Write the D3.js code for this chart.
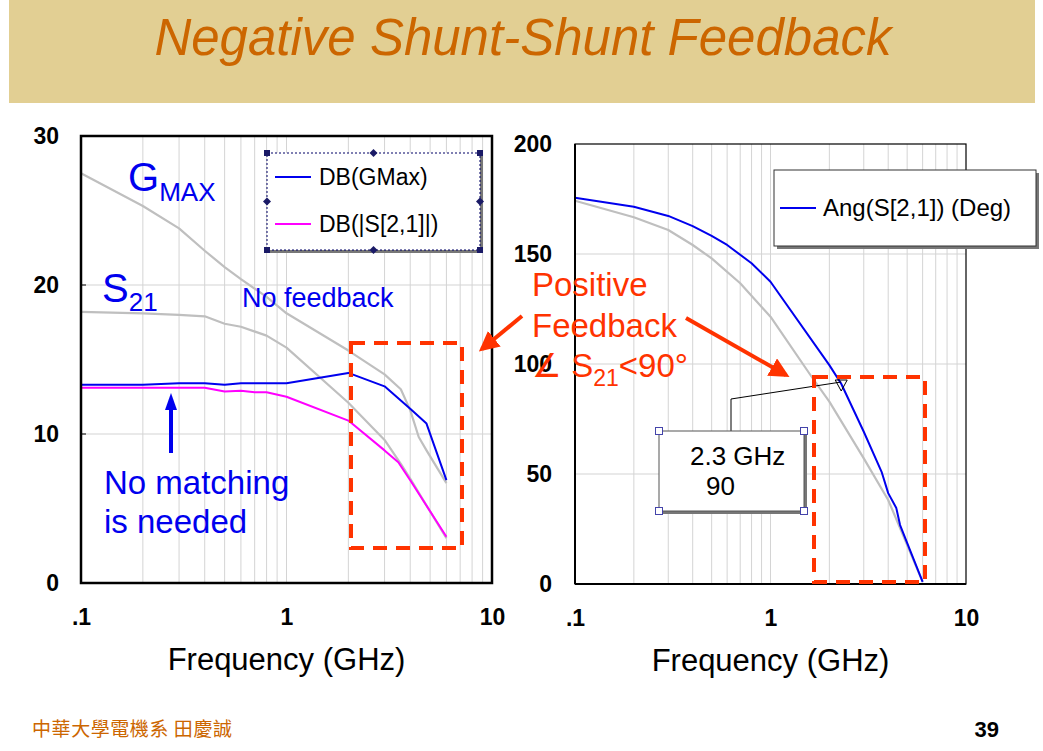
<!DOCTYPE html>
<html><head><meta charset="utf-8">
<script src="https://cdn.jsdelivr.net/npm/d3@7"></script>
<style>
body{margin:0;background:#fff;}
svg{display:block;font-family:"Liberation Sans",Arial,sans-serif;}
</style></head>
<body>
<script>
// ---------- DATA ----------
const titleText = "Negative Shunt-Shunt Feedback";
const footerText = "中華大學電機系 田慶誠";
const pageNumber = "39";
const xTickValues = [0.1, 1, 10];
const xTickLabels = [".1", "1", "10"];
const leftYTicks = [0, 10, 20, 30];
const rightYTicks = [0, 50, 100, 150, 200];

// Left chart: dB
const gmaxFb   = [[0.1,13.3],[0.2,13.3],[0.3,13.4],[0.4,13.4],[0.5,13.3],[0.6,13.4],[0.8,13.4],[1.0,13.4],[2.0,14.1],[3.0,13.2],[4.0,11.7],[4.8,10.7],[6.0,6.9]];
const s21Fb    = [[0.1,13.1],[0.2,13.1],[0.3,13.1],[0.4,13.1],[0.5,12.85],[0.6,12.9],[0.7,12.8],[0.8,12.8],[1.0,12.5],[2.0,10.9],[3.0,8.9],[3.5,8.1],[4.0,6.9],[6.0,3.1]];
const gmaxNoFb = [[0.1,27.5],[0.2,25.3],[0.3,23.8],[0.4,22.3],[0.5,21.2],[0.6,20.4],[0.8,19.2],[1.0,18.1],[2.0,15.6],[3.0,14.0],[3.6,13.0],[4.0,11.6],[4.4,9.8],[4.8,8.9],[6.0,6.7]];
const s21NoFb  = [[0.1,18.2],[0.2,18.1],[0.3,18.0],[0.4,17.9],[0.5,17.4],[0.6,17.2],[0.8,16.6],[1.0,15.8],[2.0,12.1],[3.0,9.6],[3.6,8.0],[4.0,7.0],[6.0,3.0]];
const leftLegend = ["DB(GMax)", "DB(|S[2,1]|)"];

// Right chart: phase (deg)
const angFb   = [[0.1,175.6],[0.2,171.5],[0.3,167.3],[0.4,162.7],[0.5,158.2],[0.6,154.1],[0.8,145.8],[1.0,137.4],[2.0,99.5],[2.3,91.0],[3.0,69.2],[3.7,51.0],[4.0,41.3],[4.4,34.5],[4.6,26.8],[6.0,1.0]];
const angNoFb = [[0.1,174.2],[0.2,166.7],[0.3,160.9],[0.4,154.1],[0.5,148.0],[0.7,136.7],[1.0,121.5],[1.6,95.0],[2.0,82.9],[3.0,57.1],[4.0,38.2],[6.0,1.0]];
const rightLegend = ["Ang(S[2,1]) (Deg)"];
const markerPoint = [2.3, 90];
const markerLabel = ["2.3 GHz", "90"];

// ---------- DRAW ----------
const W = 1043, H = 751;
const svg = d3.select("body").append("svg").attr("width", W).attr("height", H);

// banner
svg.append("rect").attr("x", 9).attr("y", 0).attr("width", 1026).attr("height", 103).attr("fill", "#E2CF93");
svg.append("text").attr("x", 523).attr("y", 55).attr("text-anchor", "middle")
  .attr("font-size", 51).attr("font-style", "italic").attr("fill", "#CC6600").text(titleText);

const BLUE = "#0000EE", MAG = "#FF00FF", GRAY = "#BFBFBF", RED = "#FF3300";

function minorTicks(lo, hi) {
  const out = [];
  for (let d = lo; d < hi; d *= 10) for (let k = 2; k <= 9; k++) out.push(d * k);
  return out;
}

function drawChart(cfg) {
  const x = d3.scaleLog().domain([0.1, 10]).range([cfg.x0, cfg.x1]);
  const y = d3.scaleLinear().domain(cfg.yDomain).range([cfg.y1, cfg.y0]);
  const g = svg.append("g");
  g.selectAll(".vg").data(minorTicks(0.1, 10).concat([1])).enter().append("line")
    .attr("x1", d => x(d)).attr("x2", d => x(d)).attr("y1", cfg.y0).attr("y2", cfg.y1)
    .attr("stroke", "#D4D4D4").attr("stroke-width", 1);
  g.selectAll(".hg").data(cfg.yTicks.slice(1, -1)).enter().append("line")
    .attr("x1", cfg.x0).attr("x2", cfg.x1).attr("y1", d => y(d)).attr("y2", d => y(d))
    .attr("stroke", "#D4D4D4").attr("stroke-width", 1.2);
  const ya = d3.axisLeft(y).tickValues(cfg.yTicks).tickSize(0).tickPadding(cfg.yPad);
  const yg = g.append("g").attr("transform", `translate(${cfg.x0},0)`).call(ya);
  yg.select(".domain").remove();
  yg.selectAll("text").attr("font-size", 23).attr("font-weight", "bold").attr("fill", "#000")
    .attr("font-family", "'Liberation Sans',Arial,sans-serif");
  const xa = d3.axisBottom(x).tickValues(xTickValues).tickFormat((d, i) => xTickLabels[i]).tickSize(0).tickPadding(26);
  const xg = g.append("g").attr("transform", `translate(0,${cfg.y1})`).call(xa);
  xg.select(".domain").remove();
  xg.selectAll("text").attr("font-size", 23).attr("font-weight", "bold").attr("fill", "#000")
    .attr("font-family", "'Liberation Sans',Arial,sans-serif");
  g.append("text").attr("x", (cfg.x0 + cfg.x1) / 2).attr("y", cfg.y1 + 87).attr("text-anchor", "middle")
    .attr("font-size", 31).attr("fill", "#000").text("Frequency (GHz)");
  const line = d3.line().x(d => x(d[0])).y(d => y(d[1]));
  cfg.series.forEach(s => {
    g.append("path").datum(s.data).attr("d", line).attr("fill", "none")
      .attr("stroke", s.color).attr("stroke-width", s.w).attr("stroke-linejoin", "round");
  });
  return {x, y, g};
}

// ---------- LEFT ----------
const L = drawChart({
  x0: 81, x1: 492, y0: 136, y1: 583, yDomain: [0, 30], yTicks: leftYTicks, yPad: 22,
  series: [
    {data: gmaxNoFb, color: GRAY, w: 2.2},
    {data: s21NoFb, color: GRAY, w: 2.2},
    {data: s21Fb, color: MAG, w: 2},
    {data: gmaxFb, color: BLUE, w: 2}
  ]
});
svg.append("rect").attr("x", 81).attr("y", 136).attr("width", 411).attr("height", 447)
  .attr("fill", "none").attr("stroke", "#000").attr("stroke-width", 2.5);
L.g.selectAll(".ytk").data([10, 20]).enter().append("line")
  .attr("x1", 81).attr("x2", 86).attr("y1", d => L.y(d)).attr("y2", d => L.y(d)).attr("stroke", "#000");

// left legend
(function () {
  const bx = 267, by = 153, bw = 213, bh = 97;
  svg.append("rect").attr("x", bx + 3).attr("y", by + 3).attr("width", bw).attr("height", bh).attr("fill", "#777");
  svg.append("rect").attr("x", bx).attr("y", by).attr("width", bw).attr("height", bh).attr("fill", "#fff")
    .attr("stroke", "#000066").attr("stroke-width", 1).attr("stroke-dasharray", "2,2");
  const cols = [BLUE, MAG];
  leftLegend.forEach((t, i) => {
    const yy = by + 24 + i * 47;
    svg.append("line").attr("x1", bx + 8).attr("x2", bx + 44).attr("y1", yy).attr("y2", yy)
      .attr("stroke", cols[i]).attr("stroke-width", 2);
    svg.append("text").attr("x", bx + 52).attr("y", yy + 8).attr("font-size", 23).attr("fill", "#000").text(t);
  });
  const corners = [[bx, by], [bx + bw, by], [bx, by + bh], [bx + bw, by + bh]];
  corners.forEach(c => svg.append("rect").attr("x", c[0] - 3).attr("y", c[1] - 3).attr("width", 6).attr("height", 6).attr("fill", "#1a1a66"));
  const mids = [[bx + bw / 2, by], [bx + bw / 2, by + bh], [bx, by + bh / 2], [bx + bw, by + bh / 2]];
  mids.forEach(c => svg.append("path").attr("d", `M${c[0]},${c[1] - 4}L${c[0] + 4},${c[1]}L${c[0]},${c[1] + 4}L${c[0] - 4},${c[1]}Z`).attr("fill", "#1a1a66"));
})();

// left annotations
svg.append("text").attr("x", 128).attr("y", 191).attr("font-size", 40).attr("fill", BLUE)
  .html('G<tspan font-size="26" dy="10">MAX</tspan>');
svg.append("text").attr("x", 102).attr("y", 302).attr("font-size", 40).attr("fill", BLUE)
  .html('S<tspan font-size="26" dy="9">21</tspan>');
svg.append("text").attr("x", 242).attr("y", 307).attr("font-size", 27).attr("fill", BLUE).text("No feedback");
svg.append("text").attr("x", 104).attr("y", 494).attr("font-size", 33).attr("fill", BLUE).text("No matching");
svg.append("text").attr("x", 104).attr("y", 533).attr("font-size", 33).attr("fill", BLUE).text("is needed");
svg.append("line").attr("x1", 171).attr("x2", 171).attr("y1", 453).attr("y2", 408).attr("stroke", BLUE).attr("stroke-width", 4);
svg.append("path").attr("d", "M171,393L165,410L177,410Z").attr("fill", BLUE);

// left red dashed rect
svg.append("rect").attr("x", 351).attr("y", 343).attr("width", 111).attr("height", 205)
  .attr("fill", "none").attr("stroke", RED).attr("stroke-width", 4).attr("stroke-dasharray", "14,9");

// ---------- RIGHT ----------
const R = drawChart({
  x0: 575, x1: 966, y0: 144, y1: 584, yDomain: [0, 200], yTicks: rightYTicks, yPad: 23,
  series: [
    {data: angNoFb, color: GRAY, w: 2.2},
    {data: angFb, color: BLUE, w: 2}
  ]
});
svg.append("rect").attr("x", 575).attr("y", 144).attr("width", 391).attr("height", 440)
  .attr("fill", "none").attr("stroke", "#000").attr("stroke-width", 1.2);
svg.append("line").attr("x1", 575).attr("x2", 575).attr("y1", 144).attr("y2", 584).attr("stroke", "#000").attr("stroke-width", 2);
svg.append("line").attr("x1", 575).attr("x2", 966).attr("y1", 584).attr("y2", 584).attr("stroke", "#000").attr("stroke-width", 2);

// right legend
(function () {
  const bx = 774, by = 170, bw = 262, bh = 76;
  svg.append("rect").attr("x", bx + 3).attr("y", by + 3).attr("width", bw).attr("height", bh).attr("fill", "#777");
  svg.append("rect").attr("x", bx).attr("y", by).attr("width", bw).attr("height", bh).attr("fill", "#fff")
    .attr("stroke", "#333").attr("stroke-width", 1);
  svg.append("line").attr("x1", bx + 6).attr("x2", bx + 42).attr("y1", by + 38).attr("y2", by + 38)
    .attr("stroke", BLUE).attr("stroke-width", 2);
  svg.append("text").attr("x", bx + 49).attr("y", by + 46).attr("font-size", 24).attr("fill", "#000").text(rightLegend[0]);
})();

// marker & callout
(function () {
  const mx = R.x(markerPoint[0]), my = R.y(markerPoint[1]);
  svg.append("path").attr("d", `M731,431L731,399L${mx},${my - 4}`).attr("fill", "none").attr("stroke", "#000").attr("stroke-width", 1);
  svg.append("path").attr("d", `M${mx - 6},${my - 6}L${mx + 6},${my - 6}L${mx},${my + 5}Z`).attr("fill", "none").attr("stroke", "#000").attr("stroke-width", 1);
  const bx = 659, by = 431, bw = 145, bh = 80;
  svg.append("rect").attr("x", bx + 3).attr("y", by + 3).attr("width", bw).attr("height", bh).attr("fill", "#777");
  svg.append("rect").attr("x", bx).attr("y", by).attr("width", bw).attr("height", bh).attr("fill", "#fff")
    .attr("stroke", "#555").attr("stroke-width", 1);
  svg.append("text").attr("x", 690).attr("y", 465).attr("font-size", 26).attr("fill", "#000").text(markerLabel[0]);
  svg.append("text").attr("x", 706).attr("y", 495).attr("font-size", 26).attr("fill", "#000").text(markerLabel[1]);
  [[bx, by], [bx + bw, by], [bx, by + bh], [bx + bw, by + bh]].forEach(c =>
    svg.append("rect").attr("x", c[0] - 3.5).attr("y", c[1] - 3.5).attr("width", 7).attr("height", 7)
      .attr("fill", "#fff").attr("stroke", "#4444aa").attr("stroke-width", 1));
})();

// right red dashed rect
svg.append("rect").attr("x", 814).attr("y", 377).attr("width", 111).attr("height", 205)
  .attr("fill", "none").attr("stroke", RED).attr("stroke-width", 4).attr("stroke-dasharray", "14,9");

// Positive feedback text + arrows
svg.append("text").attr("x", 532).attr("y", 296).attr("font-size", 33).attr("fill", RED).text("Positive");
svg.append("text").attr("x", 532).attr("y", 337).attr("font-size", 33).attr("fill", RED).text("Feedback");
svg.append("text").attr("x", 532).attr("y", 377).attr("font-size", 33).attr("fill", RED)
  .html('∠ S<tspan font-size="23" dy="9">21</tspan><tspan dy="-9">&lt;90°</tspan>');
svg.append("defs").append("marker").attr("id", "ah").attr("viewBox", "0 0 10 10").attr("refX", 8).attr("refY", 5)
  .attr("markerWidth", 5).attr("markerHeight", 5).attr("orient", "auto")
  .append("path").attr("d", "M0,0L10,5L0,10Z").attr("fill", RED);
svg.append("line").attr("x1", 522).attr("y1", 316).attr("x2", 482).attr("y2", 349)
  .attr("stroke", RED).attr("stroke-width", 4).attr("marker-end", "url(#ah)");
svg.append("line").attr("x1", 686).attr("y1", 318).attr("x2", 786).attr("y2", 375)
  .attr("stroke", RED).attr("stroke-width", 4).attr("marker-end", "url(#ah)");

// footer
svg.append("text").attr("x", 32).attr("y", 736).attr("font-size", 19).attr("fill", "#CC6600")
  .attr("font-family", "'Noto Sans CJK TC',sans-serif").attr("textLength", 200).text(footerText);
svg.append("text").attr("x", 999).attr("y", 737).attr("text-anchor", "end").attr("font-size", 22)
  .attr("font-weight", "bold").attr("fill", "#000").text(pageNumber);
</script>
</body></html>
